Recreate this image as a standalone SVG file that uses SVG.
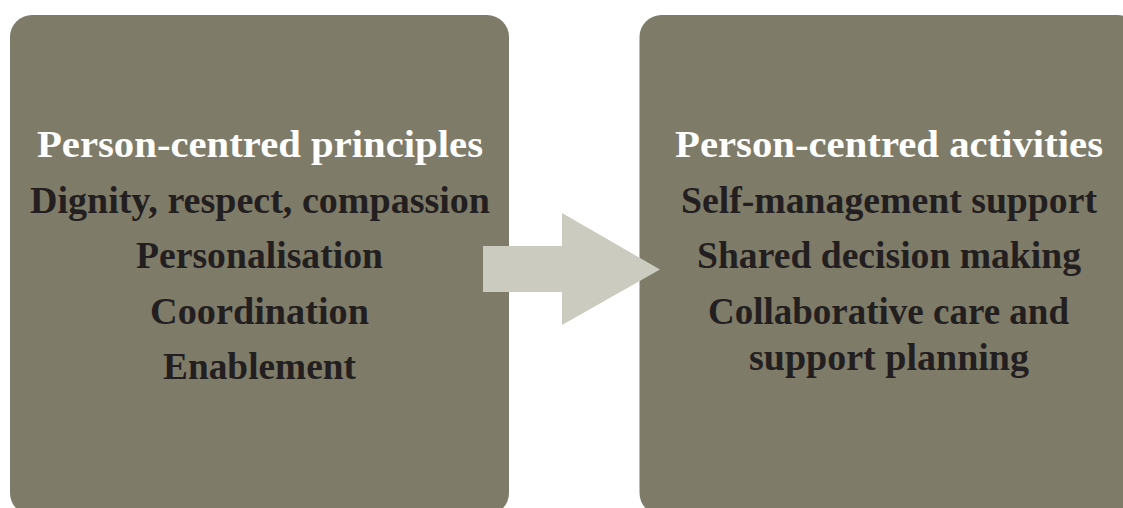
<svg xmlns="http://www.w3.org/2000/svg" width="1123" height="508" viewBox="0 0 1123 508">
<style>
.box{fill:#7f7b69}
.t{font-family:"Liberation Serif","Times New Roman",serif;font-weight:bold;font-size:38px;text-anchor:middle}
.h{fill:#ffffff}
.d{fill:#231f20}
</style>
<rect width="1123" height="508" fill="#ffffff"/>
<g id="principles">
<rect class="box" x="10" y="15" width="499" height="500" rx="22"/>
<text class="t h" x="260" y="157" textLength="446" lengthAdjust="spacingAndGlyphs">Person-centred principles</text>
<text class="t d" x="260" y="213" textLength="460" lengthAdjust="spacingAndGlyphs">Dignity, respect, compassion</text>
<text class="t d" x="259.5" y="268" textLength="247" lengthAdjust="spacingAndGlyphs">Personalisation</text>
<text class="t d" x="259.5" y="324" textLength="219" lengthAdjust="spacingAndGlyphs">Coordination</text>
<text class="t d" x="259.5" y="379" textLength="193" lengthAdjust="spacingAndGlyphs">Enablement</text>
</g>
<g id="activities">
<rect class="box" x="639.5" y="15" width="500" height="500" rx="22"/>
<text class="t h" x="889" y="157" textLength="428" lengthAdjust="spacingAndGlyphs">Person-centred activities</text>
<text class="t d" x="889" y="213" textLength="416" lengthAdjust="spacingAndGlyphs">Self-management support</text>
<text class="t d" x="889" y="268" textLength="384" lengthAdjust="spacingAndGlyphs">Shared decision making</text>
<text class="t d" x="888.5" y="324" textLength="361" lengthAdjust="spacingAndGlyphs">Collaborative care and</text>
<text class="t d" x="889" y="370" textLength="280" lengthAdjust="spacingAndGlyphs">support planning</text>
</g>
<g id="connectors">
<polygon points="483,246 562,246 562,213 660,269.5 562,325 562,292 483,292" fill="#cbcbbf"/>
</g>
</svg>
